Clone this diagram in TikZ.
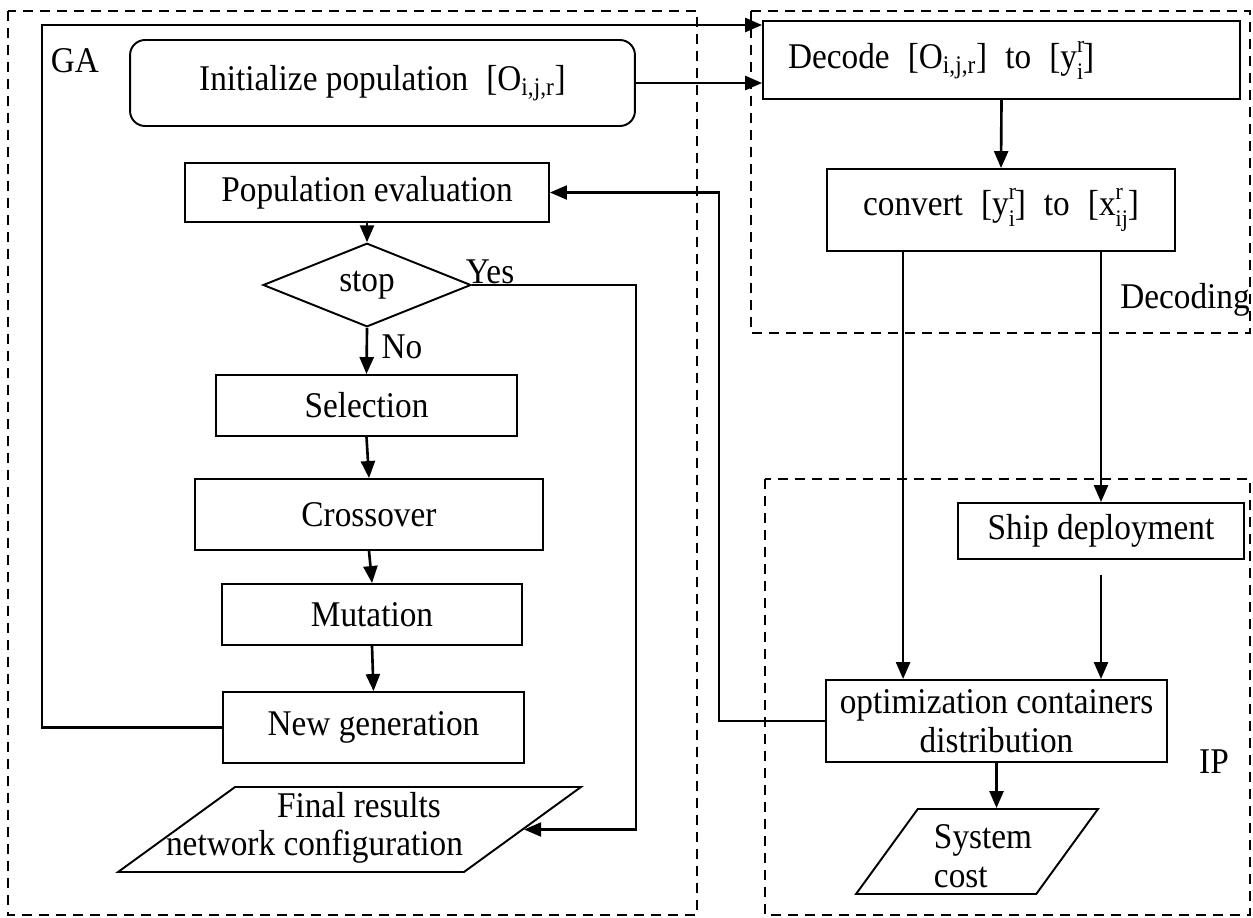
\documentclass[tikz,border=0pt]{standalone}
\usepackage{fontspec}
\setmainfont{Liberation Serif}[FakeStretch=0.92]
\usetikzlibrary{arrows.meta,shapes.geometric,calc}
\newcommand{\idxfont}{\fontsize{13.5}{14}\selectfont}
\newcommand{\idx}[3]{#1\rlap{\raisebox{0.45em}{\idxfont #2}}\raisebox{-0.3em}{\idxfont #3}}
\newcommand{\iostrut}{\rule{0pt}{1.56cm}}

\begin{document}
\begin{tikzpicture}[x=0.02cm,y=-0.02cm,
    font=\fontsize{20.6}{22}\selectfont,
    box/.style={draw,line width=1.1pt,inner sep=2pt},
    io/.style={draw,line width=1.1pt,trapezium,trapezium stretches body,inner sep=2pt},
    arr/.style={line width=1.5pt,-{Triangle[length=0.34cm,width=0.28cm]}},
    link/.style={line width=1.2pt},
    zone/.style={draw,line width=1.1pt,dash pattern=on 0.2cm off 0.14cm}]
  \useasboundingbox (0,0) rectangle (1253,917);
  % Zonas
  \draw[zone] (8,11) rectangle (697,915);
  \draw[zone] (751,11) rectangle (1250,333);
  \draw[zone] (765,479) rectangle (1250,915);
  \node (ga) at (75,61) {GA};
  \node (declbl) at (1185,300) {Decoding};
  \node (iplbl) at (1214,762) {IP};
  % GA
  \node[box,rounded corners=0.3cm,minimum width=10.1cm,minimum height=1.72cm] (init) at (382.5,83) {Initialize population\enspace[O\textsubscript{i,j,r}]};
  \node[box,minimum width=7.28cm,minimum height=1.18cm] (eval) at (367,192.5) {Population evaluation};
  \node[draw,diamond,line width=1.1pt,minimum width=4.16cm,minimum height=1.4cm,inner sep=0pt] (stop) at (367,285) {stop};
  \node[box,minimum width=6.02cm,minimum height=1.22cm] (sel) at (366.5,405.5) {Selection};
  \node[box,minimum width=6.96cm,minimum height=1.42cm] (cross) at (369,514.5) {Crossover};
  \node[box,minimum width=6cm,minimum height=1.22cm] (mut) at (372,614.5) {Mutation};
  \node[box,minimum width=6.02cm,minimum height=1.42cm] (newgen) at (373.5,727.5) {New generation};
  \node[io,trapezium left angle=36,trapezium right angle=144,minimum width=9.26cm] (final) at (349.5,829.5) {\iostrut};
  \node[align=left] (finaltxt) at (314.5,828) {\hspace*{2.22cm}Final results\\network configuration};
  \node (yes) at (490,272) {Yes};
  \node (no) at (402,347) {No};
  % Decoding + IP
  \node[box,minimum height=1.56cm,text width=8.54cm,inner xsep=0.5cm,align=left] (decode) at (1001.5,60) {Decode\enspace[O\textsubscript{i,j,r}]\enspace to\enspace[\idx{y}{r}{i}]};
  \node[box,minimum width=6.96cm,minimum height=1.64cm] (conv) at (1001,210) {convert\enspace[\idx{y}{r}{i}]\enspace to\enspace[\idx{x}{r}{ij}]};
  \node[box,minimum width=5.72cm,minimum height=1.12cm] (ship) at (1101,531) {Ship deployment};
  \node[box,minimum width=6.82cm,minimum height=1.64cm,align=center,inner sep=1pt] (opt) at (996.5,721) {optimization containers\\distribution};
  \node[io,trapezium left angle=54,trapezium right angle=126,minimum width=4.84cm] (cost) at (977,851.5) {\iostrut};
  \node[align=left] (costtxt) at (983,856) {System\\cost};
  % Flechas
  \coordinate (loopc) at (42,25);
  \draw[arr] (newgen.west) -| (loopc) -- (loopc -| decode.west);
  \draw[arr] (init.east) -- (init.east -| decode.west);
  \draw[arr] (eval.south) -- (stop.north);
  \draw[arr] (stop.south) -- (sel.north);
  \draw[arr] (sel.south) -- (cross.north);
  \draw[arr] (cross.south) -- (mut.north);
  \draw[arr] (mut.south) -- (newgen.north);
  \coordinate (yesc) at (636,285);
  \draw[link,-{Triangle[length=0.34cm,width=0.28cm]}] (stop.east) -- (yesc) |- (final);
  \draw[link,-{Triangle[length=0.34cm,width=0.28cm]}] (opt.west) -| ($(eval.east)+(169,0)$) -- (eval.east);
  \draw[arr] (decode.south) -- (conv.north);
  \draw[arr] ($(conv.south west)+(77,0)$) coordinate (cl) -- (cl |- opt.north);
  \draw[arr] (conv.south -| ship.north) -- (ship.north);
  \draw[arr,shorten <=0.3cm] (ship.south) -- (ship.south |- opt.north);
  \draw[arr] (opt.south) -- (opt.south |- cost.north);
\end{tikzpicture}
\end{document}
